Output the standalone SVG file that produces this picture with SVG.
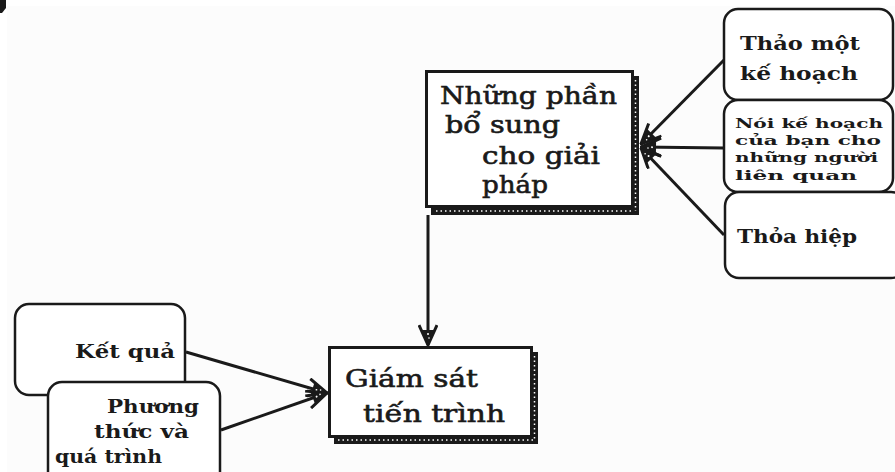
<svg xmlns="http://www.w3.org/2000/svg" width="895" height="472" viewBox="0 0 895 472">
<defs>
<style>
.main{font-family:"DejaVu Serif","Liberation Serif",serif;font-size:24px;fill:#1a1a1a;stroke:#1a1a1a;stroke-width:0.6}
.sm{font-family:"DejaVu Serif","Liberation Serif",serif;font-size:19px;font-weight:bold;fill:#1a1a1a}
.xs{font-family:"DejaVu Serif","Liberation Serif",serif;font-size:13.5px;font-weight:bold;fill:#1a1a1a}
.box{fill:#fff;stroke:#1a1a1a;stroke-width:3}
.rbox{fill:#fff;stroke:#1a1a1a;stroke-width:2.5}
.shadow{fill:#1a1a1a}
.dots{stroke:#fff;stroke-width:1.5;stroke-dasharray:1.5 3;fill:none}
.conn{stroke:#1a1a1a;stroke-width:3;fill:none}
</style>
<marker id="arr" viewBox="0 0 22 20" refX="21" refY="10" markerWidth="22" markerHeight="20" markerUnits="userSpaceOnUse" orient="auto">
<path d="M1,1 L21,10 L1,19" fill="none" stroke="#1a1a1a" stroke-width="3"/>
<path d="M6,4 L21,10 L6,16 z" fill="#1a1a1a"/>
<circle cx="10" cy="10" r="1" fill="#fff"/>
<circle cx="14" cy="9" r="0.8" fill="#fff"/>
</marker>
</defs>
<rect x="0" y="0" width="895" height="472" fill="#fff"/>
<rect x="7" y="6" width="888" height="466" fill="#fcfcfc"/>
<path d="M0,0 L6,0 L6,8 L2,13 L0,13 z" fill="#1a1a1a"/>

<g id="connectors">
<line class="conn" x1="428" y1="215" x2="428" y2="345" marker-end="url(#arr)"/>
<line class="conn" x1="186" y1="352" x2="327" y2="393" marker-end="url(#arr)"/>
<line class="conn" x1="221" y1="430" x2="327" y2="393" marker-end="url(#arr)"/>
<line class="conn" x1="724" y1="60" x2="641" y2="144" marker-end="url(#arr)"/>
<line class="conn" x1="724" y1="148" x2="641" y2="147" marker-end="url(#arr)"/>
<line class="conn" x1="724" y1="235" x2="641" y2="148" marker-end="url(#arr)"/>
</g>

<g id="node-bo-sung">
<rect class="shadow" x="632" y="76" width="7" height="139"/>
<rect class="shadow" x="431" y="207" width="208" height="8"/>
<line class="dots" x1="635.5" y1="80" x2="635.5" y2="211"/>
<line class="dots" x1="436" y1="211" x2="634" y2="211"/>
<rect class="box" x="426.5" y="71.5" width="206" height="135"/>
<text class="main" x="440" y="104" textLength="177" lengthAdjust="spacingAndGlyphs">Những phần</text>
<text class="main" x="445" y="133" textLength="115" lengthAdjust="spacingAndGlyphs">bổ sung</text>
<text class="main" x="482" y="164" textLength="118" lengthAdjust="spacingAndGlyphs">cho giải</text>
<text class="main" x="482" y="193" textLength="66" lengthAdjust="spacingAndGlyphs">pháp</text>
</g>

<g id="node-giam-sat">
<rect class="shadow" x="531" y="352" width="7" height="92"/>
<rect class="shadow" x="334" y="436" width="204" height="8"/>
<line class="dots" x1="534.5" y1="356" x2="534.5" y2="440"/>
<line class="dots" x1="338" y1="440" x2="533" y2="440"/>
<rect class="box" x="329.5" y="347.5" width="202" height="89"/>
<text class="main" x="345" y="387" textLength="133" lengthAdjust="spacingAndGlyphs">Giám sát</text>
<text class="main" x="363" y="422" textLength="142" lengthAdjust="spacingAndGlyphs">tiến trình</text>
</g>

<g id="node-thao">
<rect class="rbox" x="724" y="9" width="169" height="91" rx="14"/>
<text class="sm" x="740" y="50" textLength="120" lengthAdjust="spacingAndGlyphs">Thảo một</text>
<text class="sm" x="740" y="80" textLength="118" lengthAdjust="spacingAndGlyphs">kế hoạch</text>
</g>

<g id="node-noi">
<rect class="rbox" x="724" y="100" width="169" height="92" rx="14"/>
<text class="xs" x="735" y="128" textLength="148" lengthAdjust="spacingAndGlyphs">Nói kế hoạch</text>
<text class="xs" x="735" y="145" textLength="146" lengthAdjust="spacingAndGlyphs">của bạn cho</text>
<text class="xs" x="735" y="162" textLength="143" lengthAdjust="spacingAndGlyphs">những người</text>
<text class="xs" x="735" y="180" textLength="122" lengthAdjust="spacingAndGlyphs">liên quan</text>
</g>

<g id="node-thoa-hiep">
<rect class="rbox" x="725" y="192" width="180" height="86" rx="14"/>
<text class="sm" x="737" y="243" textLength="120" lengthAdjust="spacingAndGlyphs">Thỏa hiệp</text>
</g>

<g id="node-ket-qua">
<rect class="rbox" x="15" y="304" width="170" height="91" rx="14"/>
<text class="sm" x="75" y="358" textLength="100" lengthAdjust="spacingAndGlyphs">Kết quả</text>
</g>

<g id="node-phuong-thuc">
<rect class="rbox" x="48" y="382" width="172" height="110" rx="14"/>
<text class="sm" x="107" y="413" textLength="92" lengthAdjust="spacingAndGlyphs">Phương</text>
<text class="sm" x="94" y="438" textLength="95" lengthAdjust="spacingAndGlyphs">thức và</text>
<text class="sm" x="55" y="463" textLength="107" lengthAdjust="spacingAndGlyphs">quá trình</text>
</g>
</svg>
